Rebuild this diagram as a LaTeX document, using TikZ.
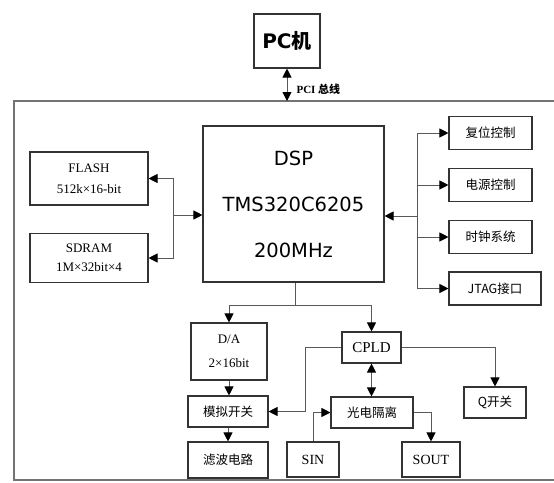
\documentclass[tikz,border=0pt]{standalone}
\usepackage{fontspec}
\setmainfont{Liberation Serif}
\newfontfamily\cjk{Noto Sans CJK SC}
\newfontfamily\chipfont{DejaVu Sans}
\usetikzlibrary{arrows.meta}
\colorlet{edge}{black!80}
\colorlet{wire}{black!65}

\begin{document}
\begin{tikzpicture}[x=1pt,y=-1pt,
  blk/.style={draw=edge, line width=1.1pt, inner sep=0pt, minimum height=31pt, align=center, font=\fontsize{14}{16}\selectfont},
  cn/.style={blk, font=\cjk\fontsize{12.5}{14}\selectfont},
  wr/.style={draw=wire, line width=0.9pt},
  tip/.style={wr, -{Triangle[length=9pt,width=9pt,color=black]}},
  tips/.style={wr, {Triangle[length=9pt,width=9pt,color=black]}-{Triangle[length=9pt,width=9pt,color=black]}}]
\useasboundingbox (0,0) rectangle (554,482);
% board outline
\draw[black!55, line width=1.4pt] (560,101) -- (14,101) -- (14,480) -- (560,480);
\coordinate (bus) at (287,101);
\node[blk, minimum width=66pt, minimum height=54pt, font=\chipfont\bfseries\fontsize{20}{22}\selectfont] (pc) at (287,41) {PC{\cjk\bfseries 机}};
\draw[tips] (pc.south) -- (bus);
\node[anchor=west, font=\bfseries\fontsize{11}{13}\selectfont] (pcilbl) at (293,89) {PCI {\cjk 总线}};
% DSP and memories
\node[blk, minimum width=181pt, minimum height=156pt, font=\chipfont\fontsize{19.5}{46}\selectfont] (dsp) at (293.5,204) {DSP\\TMS320C6205\\200MHz};
\node[blk, minimum width=118pt, minimum height=53pt, font=\fontsize{13}{21}\selectfont] (flash) at (89,178.5) {FLASH\\512k×16-bit};
\node[blk, minimum width=118pt, minimum height=49pt, font=\fontsize{13}{19}\selectfont] (sdram) at (89,258) {SDRAM\\1M×32bit×4};
\coordinate (memjoin) at (173,215);
\draw[tips] (flash.east) -- (flash.east -| memjoin) -- (sdram.east -| memjoin) -- (sdram.east);
\draw[tip] (memjoin) -- (memjoin -| dsp.west);
% control side
\node[cn, minimum width=83pt, minimum height=33pt] (rst) at (490.5,133) {复位控制};
\node[cn, minimum width=83pt, minimum height=33pt] (pwr) at (490.5,185) {电源控制};
\node[cn, minimum width=83pt, minimum height=33pt] (clk) at (490.5,237) {时钟系统};
\node[cn, minimum width=92pt, minimum height=33pt] (jtag) at (495,288.5) {JTAG接口};
\coordinate (ctljoin) at (417,216);
\draw[wr] (rst.west -| ctljoin) -- (jtag.west -| ctljoin);
\foreach \n in {rst,pwr,clk,jtag}
  \draw[tip] (\n.west -| ctljoin) -- (\n.west);
\draw[tip] (ctljoin) -- (ctljoin -| dsp.east);
% lower chain
\node[blk, minimum width=76pt, minimum height=57pt, font=\fontsize{13}{24}\selectfont] (da) at (229,351.5) {D/A\\2×16bit};
\node[cn, minimum width=80pt] (asw) at (228,411.5) {模拟开关};
\node[cn, minimum width=80pt, minimum height=36pt] (filt) at (228,460) {滤波电路};
\node[blk, minimum width=59pt, font=\fontsize{15}{17}\selectfont] (cpld) at (371.5,347.5) {CPLD};
\node[cn, minimum width=82pt] (opto) at (372,412.5) {光电隔离};
\node[cn, minimum width=62pt] (qsw) at (495,402.5) {Q开关};
\node[blk, minimum width=52pt, minimum height=35pt] (sin) at (313,459.5) {SIN};
\node[blk, minimum width=58pt, minimum height=35pt] (sout) at (431,459.5) {SOUT};
\coordinate (dspout) at (295,305);
\coordinate (cpldl) at (305,347.5);
\draw[wr] (dsp.south -| dspout) -- (dspout);
\draw[tip] (dspout) -| (da.north);
\draw[tip] (dspout) -| (cpld.north);
\draw[tip] (da.south) -- (da.south |- asw.north);
\draw[tip] (asw.south) -- (filt.north);
\draw[tip] (cpld.west) -- (cpldl) |- (asw.east);
\draw[tip] (cpld.east) -| (qsw.north);
\draw[tips] (cpld.south) -- (cpld.south |- opto.north);
\draw[tip] (sin.north) |- (opto.west);
\draw[tip] (opto.east) -| (sout.north);
\end{tikzpicture}
\end{document}
